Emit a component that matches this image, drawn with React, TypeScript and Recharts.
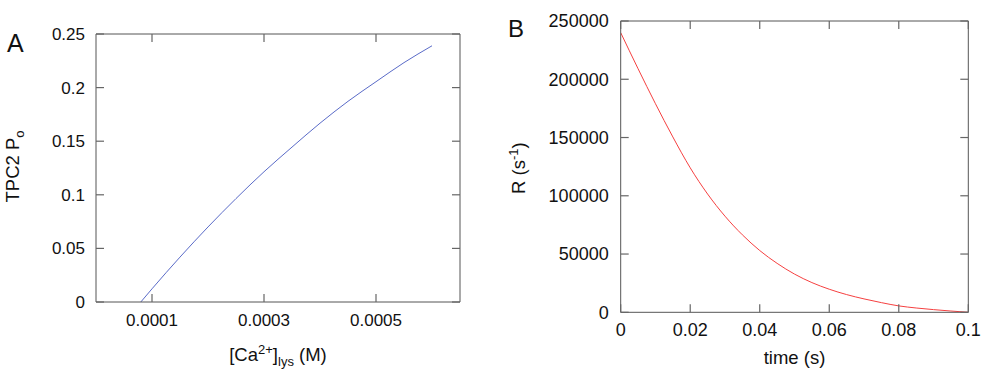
import React from 'react';
import { LineChart, Line, XAxis, YAxis } from 'recharts';

// Panel A: TPC2 open probability vs lysosomal Ca2+
const caLys = [0.00008, 0.0001, 0.00015, 0.0002, 0.00025, 0.0003, 0.00035, 0.0004, 0.00045, 0.0005, 0.00055, 0.0006];
const tpc2Po = [0, 0.0123, 0.0419, 0.07, 0.0965, 0.1215, 0.1445, 0.1668, 0.1872, 0.2055, 0.2233, 0.239];
const aXTicks = [0.0001, 0.0003, 0.0005];
const aYTicks = [0, 0.05, 0.1, 0.15, 0.2, 0.25];

// Panel B: release rate vs time
const timeS = [0, 0.005, 0.01, 0.015, 0.02, 0.025, 0.03, 0.035, 0.04, 0.045, 0.05, 0.055, 0.06, 0.065, 0.07, 0.075, 0.08, 0.085, 0.09, 0.095, 0.1];
const rate = [240000, 209000, 179000, 150500, 124000, 101500, 82500, 66500, 53000, 42000, 32800, 25500, 19800, 15200, 11500, 8300, 5500, 3700, 2300, 1100, 0];
const bXTicks = [0, 0.02, 0.04, 0.06, 0.08, 0.1];
const bYTicks = [0, 50000, 100000, 150000, 200000, 250000];

const dataA = caLys.map((x, i) => ({ x, y: tpc2Po[i] }));
const dataB = timeS.map((x, i) => ({ x, y: rate[i] }));

const FONT = '"Liberation Sans", Arial, Helvetica, sans-serif';
const FRAME = '#555';
const TICK = '#666';
const TEXT = '#111';
const TL = 8;

const makeBottomTick = (fontSize: number) => (p: any) => (
  <g>
    <path d={`M${p.x},${p.y}V${p.y - TL}`} stroke={TICK} strokeWidth={1.2} fill="none" />
    <text x={p.x} y={p.y + 23.5} textAnchor="middle" fontSize={fontSize} fill={TEXT}>
      {String(p.payload.value)}
    </text>
  </g>
);
const makeLeftTick = (fontSize: number, gap: number) => (p: any) => (
  <g>
    <path d={`M${p.x},${p.y}H${p.x + TL}`} stroke={TICK} strokeWidth={1.2} fill="none" />
    <text x={p.x - gap} y={p.y} dy="0.355em" textAnchor="end" fontSize={fontSize} fill={TEXT}>
      {String(p.payload.value)}
    </text>
  </g>
);
const topTick = (p: any) => (
  <path d={`M${p.x},${p.y}V${p.y + TL}`} stroke={TICK} strokeWidth={1.2} fill="none" />
);
const rightTick = (p: any) => (
  <path d={`M${p.x},${p.y}H${p.x - TL}`} stroke={TICK} strokeWidth={1.2} fill="none" />
);

const xLabelA = (props: any) => {
  const vb = props.viewBox || {};
  const cx = vb.x + vb.width / 2;
  const y = vb.y + 59.4;
  return (
    <text x={cx} y={y} textAnchor="middle" fontSize={18.5} fill={TEXT} style={{ whiteSpace: 'pre' }}>
      <tspan>[Ca</tspan>
      <tspan dy={-7} fontSize={13}>2+</tspan>
      <tspan dy={7}>]</tspan>
      <tspan dy={5} fontSize={13}>lys</tspan>
      <tspan dy={-5}> (M)</tspan>
    </text>
  );
};

const yLabelA = (props: any) => {
  const vb = props.viewBox || {};
  const x = vb.x + 19;
  const y = vb.y + vb.height / 2 - 1.5;
  return (
    <text x={x} y={y} transform={`rotate(-90 ${x} ${y})`} textAnchor="middle" fontSize={18.5} fill={TEXT} style={{ whiteSpace: 'pre' }}>
      <tspan>TPC2 P</tspan>
      <tspan dy={5} fontSize={13}>o</tspan>
    </text>
  );
};

const xLabelB = (props: any) => {
  const vb = props.viewBox || {};
  const cx = vb.x + vb.width / 2;
  const y = vb.y + 51.7;
  return (
    <text x={cx} y={y} textAnchor="middle" fontSize={18.5} fill={TEXT} style={{ whiteSpace: 'pre' }}>
      time (s)
    </text>
  );
};

const yLabelB = (props: any) => {
  const vb = props.viewBox || {};
  const x = vb.x + 35;
  const y = vb.y + vb.height / 2 + 1.5;
  return (
    <text x={x} y={y} transform={`rotate(-90 ${x} ${y})`} textAnchor="middle" fontSize={18.5} fill={TEXT} style={{ whiteSpace: 'pre' }}>
      <tspan>R (s</tspan>
      <tspan dy={-7} fontSize={13}>-1</tspan>
      <tspan dy={7}>)</tspan>
    </text>
  );
};

export default function App() {
  return (
    <div style={{ position: 'absolute', left: 0, top: 0, width: 1000, height: 381, background: '#fff', fontFamily: FONT }}>
      <div style={{ position: 'absolute', left: 7, top: 30.8, fontSize: 25, lineHeight: '1', color: TEXT }}>A</div>
      <div style={{ position: 'absolute', left: 508, top: 16.7, fontSize: 24, lineHeight: '1', color: TEXT }}>B</div>

      <div style={{ position: 'absolute', left: 0, top: 0 }}>
        <LineChart width={490} height={381} data={dataA} margin={{ top: 33, right: 29, bottom: 19, left: 0 }}>
          <XAxis xAxisId="b" dataKey="x" type="number" domain={[0, 0.00065]} ticks={aXTicks} interval={0}
            allowDataOverflow orientation="bottom" height={60} tickSize={0} tickMargin={0} tickLine={false}
            stroke={FRAME} tick={makeBottomTick(17)} label={{ content: xLabelA }} />
          <XAxis xAxisId="t" dataKey="x" type="number" domain={[0, 0.00065]} ticks={aXTicks} interval={0}
            allowDataOverflow orientation="top" height={1} tickSize={0} tickMargin={0} tickLine={false}
            stroke={FRAME} tick={topTick} />
          <YAxis yAxisId="l" type="number" domain={[0, 0.25]} ticks={aYTicks} interval={0}
            allowDataOverflow orientation="left" width={96} tickSize={0} tickMargin={0} tickLine={false}
            stroke={FRAME} tick={makeLeftTick(17, 11)} label={{ content: yLabelA }} />
          <YAxis yAxisId="r" type="number" domain={[0, 0.25]} ticks={aYTicks} interval={0}
            allowDataOverflow orientation="right" width={1} tickSize={0} tickMargin={0} tickLine={false}
            stroke={FRAME} tick={rightTick} />
          <Line xAxisId="b" yAxisId="l" type="monotone" dataKey="y" stroke="#5a6bc8" strokeWidth={1}
            dot={false} activeDot={false} isAnimationActive={false} />
        </LineChart>
      </div>

      <div style={{ position: 'absolute', left: 490, top: 0 }}>
        <LineChart width={510} height={381} data={dataB} margin={{ top: 20, right: 30.7, bottom: 8.7, left: 0 }}>
          <XAxis xAxisId="b" dataKey="x" type="number" domain={[0, 0.1]} ticks={bXTicks} interval={0}
            allowDataOverflow orientation="bottom" height={60} tickSize={0} tickMargin={0} tickLine={false}
            stroke={FRAME} tick={makeBottomTick(18)} label={{ content: xLabelB }} />
          <XAxis xAxisId="t" dataKey="x" type="number" domain={[0, 0.1]} ticks={bXTicks} interval={0}
            allowDataOverflow orientation="top" height={1} tickSize={0} tickMargin={0} tickLine={false}
            stroke={FRAME} tick={topTick} />
          <YAxis yAxisId="l" type="number" domain={[0, 250000]} ticks={bYTicks} interval={0}
            allowDataOverflow orientation="left" width={130.7} tickSize={0} tickMargin={0} tickLine={false}
            stroke={FRAME} tick={makeLeftTick(18, 12)} label={{ content: yLabelB }} />
          <YAxis yAxisId="r" type="number" domain={[0, 250000]} ticks={bYTicks} interval={0}
            allowDataOverflow orientation="right" width={1} tickSize={0} tickMargin={0} tickLine={false}
            stroke={FRAME} tick={rightTick} />
          <Line xAxisId="b" yAxisId="l" type="monotone" dataKey="y" stroke="#f54040" strokeWidth={1}
            dot={false} activeDot={false} isAnimationActive={false} />
        </LineChart>
      </div>
    </div>
  );
}
